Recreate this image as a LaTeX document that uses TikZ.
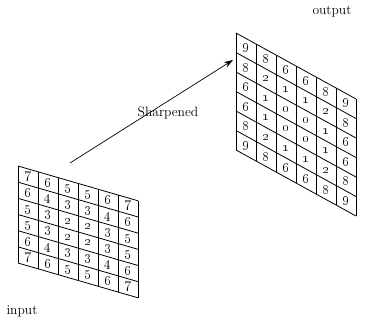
\documentclass[tikz,border=0pt]{standalone}
\usetikzlibrary{arrows.meta}
\begin{document}
\begin{tikzpicture}[x=1pt,y=-1pt,
  gridline/.style={line width=0.8pt},
  cellnum/.style={font=\fontsize{14}{14}\selectfont, inner sep=0pt},
  lbl/.style={font=\fontsize{13.5}{15}\selectfont, inner sep=1pt},
  arr/.style={-{Stealth[length=9pt,width=6pt]}, line width=0.7pt}
]
\useasboundingbox (0,0) rectangle (368,320);

% input grid
\begin{scope}[shift={(18,166)}, yslant=-0.29]
  \foreach \k in {0,...,6} {
    \draw[gridline] (20*\k,0) -- (20*\k,97);
    \draw[gridline] (0,16.17*\k) -- (120,16.17*\k);
  }
  \foreach \r [count=\j] in {{7,6,5,5,6,7},{6,4,3,3,4,6},{5,3,2,2,3,5},
                             {5,3,2,2,3,5},{6,4,3,3,4,6},{7,6,5,5,6,7}}
    \foreach \v [count=\i] in \r
      \node[cellnum] (in-\j-\i) at (20*\i-10,16.17*\j-8.1) {\oldstylenums{\v}};
\end{scope}

% output grid
\begin{scope}[shift={(236,33)}, yslant=-0.55]
  \foreach \k in {0,...,6} {
    \draw[gridline] (20*\k,0) -- (20*\k,117);
    \draw[gridline] (0,19.5*\k) -- (120,19.5*\k);
  }
  \foreach \r [count=\j] in {{9,8,6,6,8,9},{8,2,1,1,2,8},{6,1,0,0,1,6},
                             {6,1,0,0,1,6},{8,2,1,1,2,8},{9,8,6,6,8,9}}
    \foreach \v [count=\i] in \r
      \node[cellnum] (out-\j-\i) at (20*\i-10,19.5*\j-9.75) {\oldstylenums{\v}};
\end{scope}

\node[lbl] (input) at (22,311) {input};
\node[lbl] (output) at (332,12) {output};
\node[lbl] (sharp) at (168,113) {Sharpened};

\coordinate (from) at (70,163);
\coordinate (to) at (233,60);
\draw[arr] (from) -- (to);
\end{tikzpicture}
\end{document}
